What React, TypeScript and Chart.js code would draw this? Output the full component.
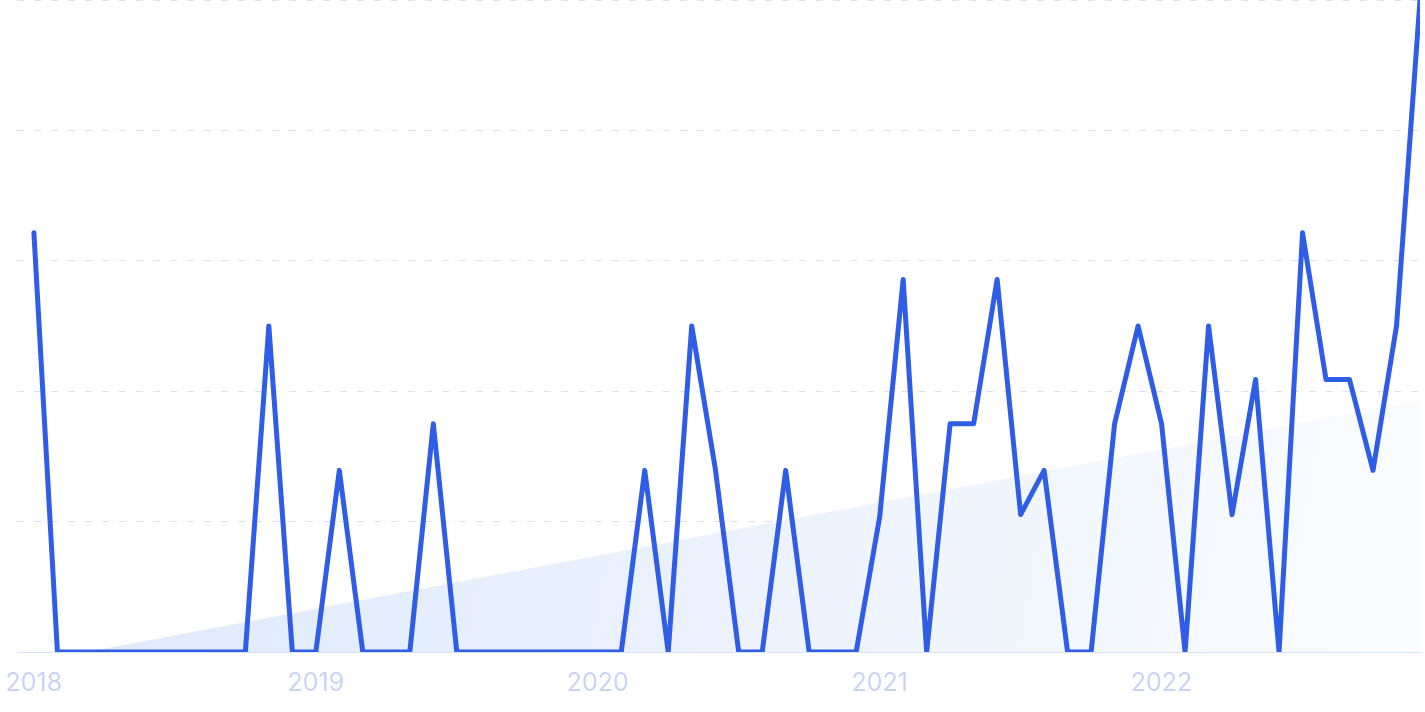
import React, { useEffect, useRef } from "react";
import { Chart, registerables } from "chart.js";

Chart.register(...registerables);

// Monthly values, Jan 2018 .. Dec 2022
const monthlyValues: number[] = [
  9, 0, 0, 0, 0, 0, 0, 0, 0, 0, 7, 0,
  0, 3.9, 0, 0, 0, 4.9, 0, 0, 0, 0, 0, 0,
  0, 0, 3.9, 0, 7, 3.95, 0, 0, 3.9, 0, 0, 0,
  2.9, 8, 0, 4.9, 4.9, 8, 2.95, 3.9, 0, 0, 4.9, 7,
  4.9, 0, 7, 2.95, 5.85, 0, 9, 5.85, 5.85, 3.9, 7, 14,
];

// Trend line end points (month index, value)
const trendX: number[] = [2.25, 59];
const trendY: number[] = [0, 5.4];

const yearLabels: string[] = ["2018", "2019", "2020", "2021", "2022"];
const yearTickPositions: number[] = [0, 12, 24, 36, 48];
const yGridTicks: number[] = [0, 2.8, 5.6, 8.4, 11.2, 14];

export default function App() {
  const canvasRef = useRef<HTMLCanvasElement | null>(null);

  useEffect(() => {
    document.body.style.margin = "0";
    const canvas = canvasRef.current;
    if (!canvas) return;

    const lineData = monthlyValues.map((v, i) => ({ x: i, y: v }));
    const trendData = trendX.map((x, i) => ({ x, y: trendY[i] }));

    const chart = new Chart(canvas, {
      type: "line",
      data: {
        datasets: [
          {
            data: lineData,
            borderColor: "#2f5de5",
            borderWidth: 5,
            tension: 0,
            pointRadius: 0,
            borderJoinStyle: "round",
            borderCapStyle: "round",
            fill: false,
          },
          {
            data: trendData,
            borderWidth: 0,
            pointRadius: 0,
            fill: "origin",
            backgroundColor: (ctx: any) => {
              const c = ctx.chart;
              const a = c.chartArea;
              if (!a) return "rgba(228,237,252,1)";
              const g = c.ctx.createLinearGradient(a.left, a.bottom - 260, a.right, a.bottom);
              g.addColorStop(0, "rgba(221,232,251,1)");
              g.addColorStop(0.5, "rgba(235,242,253,1)");
              g.addColorStop(1, "rgba(250,252,255,1)");
              return g;
            },
          },
        ],
      },
      options: {
        animation: false,
        responsive: false,
        devicePixelRatio: 1,
        layout: { padding: { left: 17, right: 5, top: 0, bottom: -2 } },
        plugins: {
          legend: { display: false },
          tooltip: { enabled: false },
        },
        scales: {
          x: {
            type: "linear",
            min: -0.72,
            max: 59,
            afterBuildTicks: (axis: any) => {
              axis.ticks = yearTickPositions.map((v) => ({ value: v }));
            },
            afterFit: (axis: any) => {
              axis.paddingLeft = 0;
              axis.paddingRight = 0;
            },
            ticks: {
              callback: (value: any) => {
                const idx = yearTickPositions.indexOf(Number(value));
                return idx >= 0 ? yearLabels[idx] : "";
              },
              color: "#c9d4f2",
              font: { family: "Inter", size: 25 },
              padding: 16,
              maxRotation: 0,
              autoSkip: false,
            },
            grid: { display: false, drawTicks: false },
            border: { display: true, color: "#d8e2fb", width: 1 },
          },
          y: {
            min: 0,
            max: 14,
            afterBuildTicks: (axis: any) => {
              axis.ticks = yGridTicks.map((v) => ({ value: v }));
            },
            afterFit: (axis: any) => {
              axis.width = 0;
            },
            ticks: { display: false },
            grid: { color: "#d6e0fa", lineWidth: 1, drawTicks: false, tickLength: 0 },
            border: { display: false, dash: [7, 10] },
          },
        },
      },
    });

    return () => chart.destroy();
  }, []);

  return (
    <div style={{ width: 1425, height: 712 }}>
      <canvas ref={canvasRef} width={1425} height={712} />
    </div>
  );
}
